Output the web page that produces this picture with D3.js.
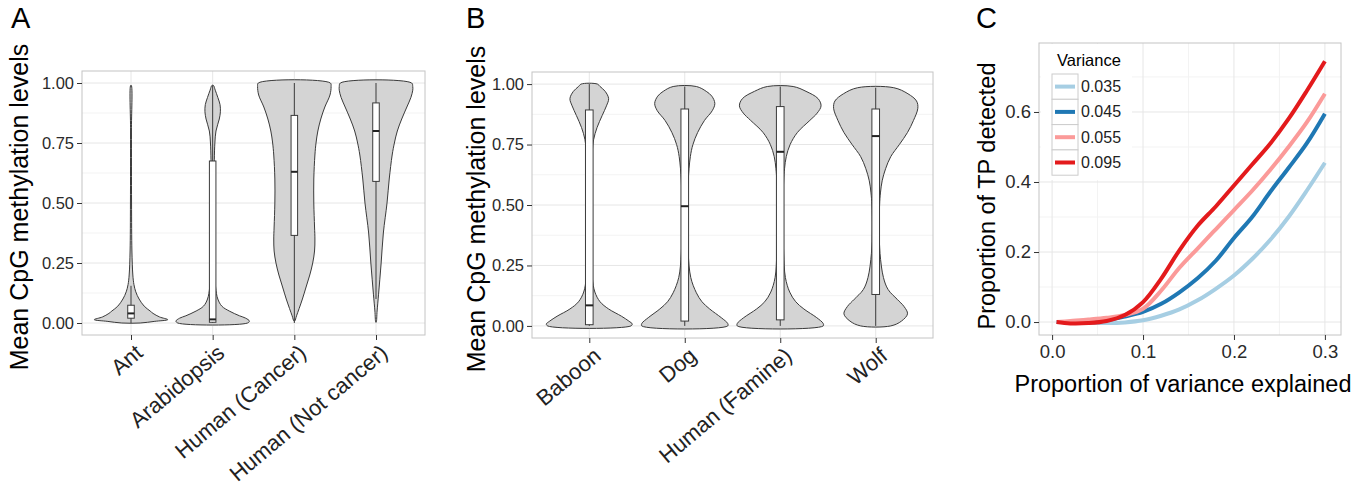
<!DOCTYPE html>
<html>
<head>
<meta charset="utf-8">
<script src="https://cdn.jsdelivr.net/npm/d3@7"></script>
<style>
body { margin: 0; background: #fff; }
text { font-family: "Liberation Sans", Arial, Helvetica, sans-serif; }
</style>
</head>
<body>
<svg id="fig" width="1371" height="489"></svg>
<script>
'use strict';

// ---- panel A data: [level, relative width] ----
const catsA = ['Ant', 'Arabidopsis', 'Human (Cancer)', 'Human (Not cancer)'];
const antDensity = [[0, 0.25], [0.007, 0.65], [0.014, 1.0], [0.025, 0.78], [0.04, 0.6], [0.05, 0.52], [0.07, 0.36], [0.1, 0.22], [0.13, 0.13], [0.16, 0.08], [0.2, 0.05], [0.3, 0.025], [0.5, 0.015], [0.8, 0.012], [0.99, 0.008]];
const arabDensity = [[0, 0.95], [0.008, 1.0], [0.02, 0.9], [0.03, 0.73], [0.05, 0.45], [0.07, 0.25], [0.1, 0.14], [0.15, 0.08], [0.25, 0.05], [0.4, 0.04], [0.55, 0.04], [0.68, 0.045], [0.75, 0.06], [0.8, 0.09], [0.85, 0.18], [0.88, 0.21], [0.91, 0.2], [0.94, 0.14], [0.97, 0.07], [0.99, 0.02]];
const cancerDensity = [[0.008, 0.01], [0.03, 0.06], [0.06, 0.13], [0.1, 0.22], [0.15, 0.32], [0.2, 0.42], [0.25, 0.5], [0.3, 0.55], [0.35, 0.56], [0.4, 0.55], [0.5, 0.53], [0.6, 0.53], [0.7, 0.56], [0.75, 0.59], [0.8, 0.64], [0.85, 0.72], [0.9, 0.83], [0.95, 0.97], [0.985, 1.0], [1.0, 0.98]];
const notCancerDensity = [[0.003, 0.005], [0.05, 0.03], [0.12, 0.07], [0.25, 0.14], [0.375, 0.2], [0.5, 0.3], [0.6, 0.36], [0.7, 0.44], [0.75, 0.5], [0.8, 0.58], [0.85, 0.7], [0.9, 0.84], [0.94, 0.95], [0.97, 1.0], [0.985, 1.0], [1.0, 0.97]];
const q1A = [0.02, 0.003, 0.365, 0.59];
const medA = [0.04, 0.015, 0.63, 0.8];
const q3A = [0.074, 0.675, 0.865, 0.917];
const loA = [0.0, 0.0, 0.0, 0.1];
const hiA = [0.155, 0.99, 1.0, 1.0];

// ---- panel B data ----
const catsB = ['Baboon', 'Dog', 'Human (Famine)', 'Wolf'];
const baboonDensity = [[0, 0.97], [0.008, 1.0], [0.02, 0.92], [0.04, 0.75], [0.07, 0.45], [0.1, 0.25], [0.14, 0.13], [0.2, 0.07], [0.3, 0.05], [0.5, 0.045], [0.65, 0.05], [0.72, 0.07], [0.77, 0.1], [0.82, 0.18], [0.87, 0.3], [0.91, 0.4], [0.94, 0.45], [0.97, 0.37], [0.99, 0.25], [1.0, 0.19]];
const dogDensity = [[0, 1.0], [0.01, 1.0], [0.034, 0.85], [0.07, 0.58], [0.1, 0.4], [0.137, 0.27], [0.2, 0.14], [0.3, 0.08], [0.4, 0.065], [0.5, 0.065], [0.6, 0.08], [0.7, 0.13], [0.75, 0.19], [0.8, 0.3], [0.85, 0.46], [0.89, 0.64], [0.92, 0.7], [0.95, 0.63], [0.97, 0.5], [0.99, 0.27]];
const famineDensity = [[0, 1.0], [0.01, 1.0], [0.034, 0.85], [0.07, 0.55], [0.1, 0.36], [0.14, 0.22], [0.2, 0.12], [0.3, 0.08], [0.4, 0.065], [0.5, 0.065], [0.6, 0.08], [0.65, 0.1], [0.7, 0.14], [0.75, 0.23], [0.8, 0.4], [0.85, 0.69], [0.88, 0.86], [0.91, 0.95], [0.94, 0.88], [0.97, 0.6], [0.99, 0.3]];
const wolfDensity = [[0, 0.35], [0.02, 0.6], [0.05, 0.74], [0.08, 0.66], [0.11, 0.5], [0.15, 0.29], [0.2, 0.18], [0.3, 0.1], [0.4, 0.08], [0.5, 0.09], [0.55, 0.11], [0.6, 0.15], [0.65, 0.23], [0.7, 0.35], [0.75, 0.55], [0.8, 0.74], [0.85, 0.88], [0.9, 0.98], [0.93, 0.95], [0.96, 0.75], [0.985, 0.42]];
const q1B = [0.005, 0.02, 0.025, 0.13];
const medB = [0.085, 0.495, 0.72, 0.785];
const q3B = [0.893, 0.897, 0.907, 0.897];
const loB = [0, 0, 0, 0];
const hiB = [1.0, 0.99, 0.99, 0.985];

// ---- panel C data ----
const propExplained = [0.005, 0.02, 0.04, 0.06, 0.08, 0.1, 0.12, 0.14, 0.16, 0.18, 0.2, 0.22, 0.24, 0.26, 0.28, 0.3];
const tp035 = [0.0, 0.0, -0.002, -0.003, -0.001, 0.005, 0.018, 0.036, 0.062, 0.095, 0.133, 0.18, 0.235, 0.3, 0.375, 0.455];
const tp045 = [0.0, 0.0, 0.002, 0.006, 0.016, 0.029, 0.052, 0.085, 0.125, 0.175, 0.24, 0.3, 0.372, 0.44, 0.51, 0.595];
const tp055 = [0.0, 0.003, 0.007, 0.012, 0.02, 0.038, 0.09, 0.155, 0.21, 0.265, 0.32, 0.375, 0.435, 0.5, 0.57, 0.652];
const tp095 = [0.0, -0.004, -0.003, 0.003, 0.02, 0.057, 0.124, 0.205, 0.275, 0.33, 0.39, 0.45, 0.51, 0.58, 0.66, 0.745];
const varLevels = ['0.035', '0.045', '0.055', '0.095'];
const varColors = ['#a6cee3', '#1f78b4', '#fb9a99', '#e31a1c'];

const FONT = '"Liberation Sans", Arial, Helvetica, sans-serif';
const svg = d3.select('#fig');
svg.append('rect').attr('width', 1371).attr('height', 489).attr('fill', '#fff');

function styleAxis(ax, size) {
    ax.select('.domain').remove();
    ax.attr('font-family', FONT).attr('font-size', size);
    ax.selectAll('line').attr('stroke', '#333');
    ax.selectAll('text').attr('fill', '#2a2a2a');
}

function violinPanel(p) {
    const g = svg.append('g');
    const x = d3.scalePoint().domain(p.cats).range([p.left, p.right]).padding(0.6);
    const y = d3.scaleLinear().domain([-0.05, 1.05]).range([p.bottom, p.top]);
    const step = x.step();

    g.selectAll('.minor')
        .data([0.125, 0.375, 0.625, 0.875])
        .enter().append('line')
        .attr('x1', p.left).attr('x2', p.right)
        .attr('y1', d => y(d)).attr('y2', d => y(d))
        .attr('stroke', '#f3f3f3');
    g.selectAll('.majorY')
        .data([0, 0.25, 0.5, 0.75, 1])
        .enter().append('line')
        .attr('x1', p.left).attr('x2', p.right)
        .attr('y1', d => y(d)).attr('y2', d => y(d))
        .attr('stroke', '#e6e6e6');
    g.selectAll('.majorX')
        .data(p.cats)
        .enter().append('line')
        .attr('x1', d => x(d)).attr('x2', d => x(d))
        .attr('y1', p.top).attr('y2', p.bottom)
        .attr('stroke', '#e6e6e6');

    const outline = d3.line().curve(d3.curveCatmullRomClosed.alpha(0.5));
    p.cats.forEach((c, i) => {
        const cx = x(c);
        const hw = 0.45 * step;
        const dens = p.dens[i];
        const pts = dens.map(d => [cx + d[1] * hw, y(d[0])])
            .concat(dens.slice().reverse().map(d => [cx - d[1] * hw, y(d[0])]));
        g.append('path')
            .attr('d', outline(pts))
            .attr('fill', '#d4d4d4')
            .attr('stroke', '#3a3a3a')
            .attr('stroke-width', 1);

        // boxplot
        const bw = 0.04 * step;
        g.append('line')
            .attr('x1', cx).attr('x2', cx)
            .attr('y1', y(p.lo[i])).attr('y2', y(p.hi[i]))
            .attr('stroke', '#3a3a3a');
        g.append('rect')
            .attr('x', cx - bw).attr('width', 2 * bw)
            .attr('y', y(p.q3[i])).attr('height', y(p.q1[i]) - y(p.q3[i]))
            .attr('fill', '#fff').attr('stroke', '#3a3a3a').attr('stroke-width', 1);
        g.append('line')
            .attr('x1', cx - bw).attr('x2', cx + bw)
            .attr('y1', y(p.med[i])).attr('y2', y(p.med[i]))
            .attr('stroke', '#222').attr('stroke-width', 2);
    });

    g.append('rect')
        .attr('x', p.left).attr('y', p.top)
        .attr('width', p.right - p.left).attr('height', p.bottom - p.top)
        .attr('fill', 'none').attr('stroke', '#c4c4c4');

    const ay = g.append('g')
        .attr('transform', `translate(${p.left},0)`)
        .call(d3.axisLeft(y).tickValues([0, 0.25, 0.5, 0.75, 1]).tickFormat(d3.format('.2f')).tickSize(5).tickPadding(3));
    styleAxis(ay, 16.5);

    const ax = g.append('g')
        .attr('transform', `translate(0,${p.bottom})`)
        .call(d3.axisBottom(x).tickSize(5).tickFormat(''));
    styleAxis(ax, 22);

    g.selectAll('.xlab')
        .data(p.cats)
        .enter().append('text')
        .attr('transform', d => `translate(${x(d) + 3},${p.bottom + 8}) rotate(-40)`)
        .attr('text-anchor', 'end')
        .attr('dy', '0.72em')
        .attr('font-size', 22)
        .attr('fill', '#222')
        .text(d => d);

    g.append('text')
        .attr('transform', `translate(${p.ylabX},${p.ylabY}) rotate(-90)`)
        .attr('text-anchor', 'middle')
        .attr('font-size', 25)
        .text('Mean CpG methylation levels');

    g.append('text')
        .attr('x', p.tagX).attr('y', 28)
        .attr('font-size', 29)
        .text(p.tag);
}

violinPanel({
    tag: 'A', tagX: 11, ylabX: 28, ylabY: 207,
    left: 82, right: 425, top: 71, bottom: 335,
    cats: catsA,
    dens: [antDensity, arabDensity, cancerDensity, notCancerDensity],
    q1: q1A, med: medA, q3: q3A, lo: loA, hi: hiA
});

violinPanel({
    tag: 'B', tagX: 466, ylabX: 485, ylabY: 209,
    left: 532, right: 933, top: 72, bottom: 338,
    cats: catsB,
    dens: [baboonDensity, dogDensity, famineDensity, wolfDensity],
    q1: q1B, med: medB, q3: q3B, lo: loB, hi: hiB
});

// ---- panel C ----
function linePanel() {
    const left = 1039, right = 1341, top = 43, bottom = 335;
    const g = svg.append('g');
    const x = d3.scaleLinear().domain([-0.0144, 0.3177]).range([left, right]);
    const y = d3.scaleLinear().domain([-0.037, 0.797]).range([bottom, top]);

    g.selectAll('.minx').data([0.05, 0.15, 0.25]).enter().append('line')
        .attr('x1', d => x(d)).attr('x2', d => x(d)).attr('y1', top).attr('y2', bottom)
        .attr('stroke', '#f3f3f3');
    g.selectAll('.miny').data([0.1, 0.3, 0.5, 0.7]).enter().append('line')
        .attr('x1', left).attr('x2', right).attr('y1', d => y(d)).attr('y2', d => y(d))
        .attr('stroke', '#f3f3f3');
    g.selectAll('.majx').data([0, 0.1, 0.2, 0.3]).enter().append('line')
        .attr('x1', d => x(d)).attr('x2', d => x(d)).attr('y1', top).attr('y2', bottom)
        .attr('stroke', '#e6e6e6');
    g.selectAll('.majy').data([0, 0.2, 0.4, 0.6]).enter().append('line')
        .attr('x1', left).attr('x2', right).attr('y1', d => y(d)).attr('y2', d => y(d))
        .attr('stroke', '#e6e6e6');

    const series = [tp035, tp045, tp055, tp095];
    const line = d3.line()
        .x((d, i) => x(propExplained[i]))
        .y(d => y(d))
        .curve(d3.curveCatmullRom.alpha(0.5));
    series.forEach((s, i) => {
        g.append('path')
            .attr('d', line(s))
            .attr('fill', 'none')
            .attr('stroke', varColors[i])
            .attr('stroke-width', 4);
    });

    g.append('rect')
        .attr('x', left).attr('y', top)
        .attr('width', right - left).attr('height', bottom - top)
        .attr('fill', 'none').attr('stroke', '#c4c4c4');

    // legend
    const lg = g.append('g');
    lg.append('rect').attr('x', 1041).attr('y', 44).attr('width', 91).attr('height', 136).attr('fill', '#fff');
    lg.append('text').attr('x', 1057).attr('y', 66).attr('font-size', 16.5).text('Variance');
    varLevels.forEach((v, i) => {
        const ky = 74 + i * 25.3;
        lg.append('rect').attr('x', 1052).attr('y', ky).attr('width', 26).attr('height', 25.3)
            .attr('fill', '#fff').attr('stroke', '#cccccc');
        lg.append('line').attr('x1', 1055).attr('x2', 1075)
            .attr('y1', ky + 12.6).attr('y2', ky + 12.6)
            .attr('stroke', varColors[i]).attr('stroke-width', 4);
        lg.append('text').attr('x', 1081).attr('y', ky + 18).attr('font-size', 16).attr('fill', '#222').text(v);
    });

    const ay = g.append('g')
        .attr('transform', `translate(${left},0)`)
        .call(d3.axisLeft(y).tickValues([0, 0.2, 0.4, 0.6]).tickFormat(d3.format('.1f')).tickSize(5).tickPadding(3));
    styleAxis(ay, 18.5);
    const ax = g.append('g')
        .attr('transform', `translate(0,${bottom})`)
        .call(d3.axisBottom(x).tickValues([0, 0.1, 0.2, 0.3]).tickFormat(d3.format('.1f')).tickSize(5).tickPadding(5));
    styleAxis(ax, 18.5);

    g.append('text')
        .attr('x', 1183).attr('y', 392)
        .attr('text-anchor', 'middle')
        .attr('font-size', 23.5)
        .text('Proportion of variance explained');
    g.append('text')
        .attr('transform', 'translate(995,196) rotate(-90)')
        .attr('text-anchor', 'middle')
        .attr('font-size', 23.5)
        .text('Proportion of TP detected');
    g.append('text').attr('x', 976).attr('y', 28).attr('font-size', 29).text('C');
}

linePanel();
</script>
</body>
</html>
